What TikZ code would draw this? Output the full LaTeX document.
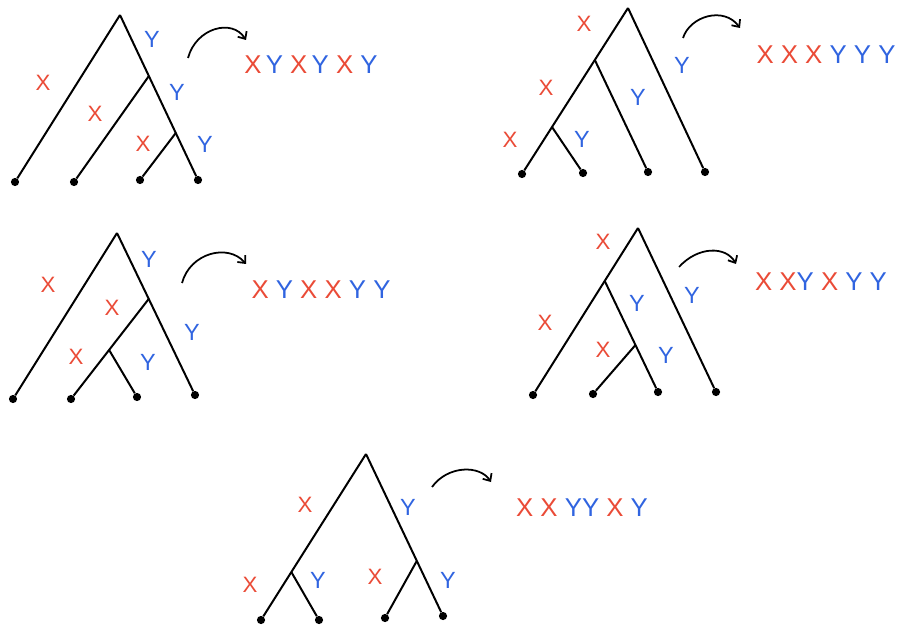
\documentclass[tikz,border=0pt]{standalone}
\usepackage{fontspec}
\setsansfont{Liberation Sans}
\usepackage{xcolor}
\definecolor{rouge}{RGB}{234, 75, 55}
\definecolor{bleu}{RGB}{48, 100, 224}
\usetikzlibrary{calc, arrows.meta}
\newcommand{\rx}{\textcolor{rouge}{X}}
\newcommand{\by}{\textcolor{bleu}{Y}}

\begin{document}
\begin{tikzpicture}[
  x=0.03cm, y=-0.03cm,
  branch/.style={line width=1.7pt, color=black},
  leaf/.style={circle, fill=black, inner sep=0pt, minimum size=7pt},
  labx/.style={text=rouge, inner sep=0pt, font=\sffamily\fontsize{19}{19}\selectfont},
  laby/.style={text=bleu, inner sep=0pt, font=\sffamily\fontsize{20}{20}\selectfont},
  seq/.style={inner sep=0pt, font=\sffamily\fontsize{22}{22}\selectfont},
  curl/.style={-{Straight Barb[length=5pt, width=9pt]}, line width=1.5pt}
]
\useasboundingbox (0,0) rectangle (897,626);
% Tree 1
\coordinate (r1) at (120,15);
\node[leaf] (l1a) at (15,182) {};
\node[leaf] (l1b) at (74,182) {};
\node[leaf] (l1c) at (140,180) {};
\node[leaf] (l1d) at (198,180) {};
\coordinate (n1a) at ($(r1)!0.37!(l1d)$);
\coordinate (n1b) at ($(r1)!0.715!(l1d)$);
\draw[branch] (r1) -- (l1a);
\draw[branch] (r1) -- (l1d);
\draw[branch] (n1a) -- (l1b);
\draw[branch] (n1b) -- (l1c);
\node[labx] (x1a) at (43,83) {X};
\node[laby] (y1a) at (152,39) {Y};
\node[labx] (x1b) at (95,114) {X};
\node[laby] (y1b) at (177,92) {Y};
\node[labx] (x1c) at (143,144) {X};
\node[laby] (y1c) at (205,144) {Y};
\coordinate (c1s) at (188,58);
\coordinate (c1e) at (246,40);
\draw[curl] (c1s) .. controls (196,28) and (232,18) .. (c1e);
\node[seq] (s1) at (311,65) {\rx\,\by\ \rx\,\by\ \rx\ \by};
% Tree 2
\coordinate (r2) at (628,8);
\node[leaf] (l2a) at (522,174) {};
\node[leaf] (l2b) at (583,173) {};
\node[leaf] (l2c) at (648,172) {};
\node[leaf] (l2d) at (705,172) {};
\coordinate (n2a) at ($(r2)!0.313!(l2a)$);
\coordinate (n2b) at ($(r2)!0.717!(l2a)$);
\draw[branch] (r2) -- (l2a);
\draw[branch] (r2) -- (l2d);
\draw[branch] (n2a) -- (l2c);
\draw[branch] (n2b) -- (l2b);
\node[labx] (x2a) at (584,24) {X};
\node[labx] (x2b) at (546,88) {X};
\node[labx] (x2c) at (510,140) {X};
\node[laby] (y2a) at (582,139) {Y};
\node[laby] (y2b) at (638,97) {Y};
\node[laby] (y2c) at (682,65) {Y};
\coordinate (c2s) at (683,38);
\coordinate (c2e) at (740,28);
\draw[curl] (c2s) .. controls (690,16) and (724,6) .. (c2e);
\node[seq] (s2) at (826,55) {\rx\ \rx\ \rx\ \by\ \by\ \by};
% Tree 3
\coordinate (r3) at (117,233);
\node[leaf] (l3a) at (13,399) {};
\node[leaf] (l3b) at (71,399) {};
\node[leaf] (l3c) at (137,397) {};
\node[leaf] (l3d) at (195,395) {};
\coordinate (n3a) at ($(r3)!0.407!(l3d)$);
\coordinate (n3b) at ($(n3a)!0.51!(l3b)$);
\draw[branch] (r3) -- (l3a);
\draw[branch] (r3) -- (l3d);
\draw[branch] (n3a) -- (l3b);
\draw[branch] (n3b) -- (l3c);
\node[labx] (x3a) at (48,285) {X};
\node[laby] (y3a) at (149,259) {Y};
\node[labx] (x3b) at (112,308) {X};
\node[laby] (y3b) at (192,332) {Y};
\node[labx] (x3c) at (76,357) {X};
\node[laby] (y3c) at (148,362) {Y};
\coordinate (c3s) at (182,283);
\coordinate (c3e) at (246,264);
\draw[curl] (c3s) .. controls (190,253) and (228,243) .. (c3e);
\node[seq] (s3) at (321,290) {\rx\ \by\ \rx\ \rx\ \by\ \by};
% Tree 4
\coordinate (r4) at (638,228);
\node[leaf] (l4a) at (533,395) {};
\node[leaf] (l4b) at (593,394) {};
\node[leaf] (l4c) at (658,392) {};
\node[leaf] (l4d) at (716,392) {};
\coordinate (n4a) at ($(r4)!0.317!(l4a)$);
\coordinate (n4b) at ($(n4a)!0.577!(l4c)$);
\draw[branch] (r4) -- (l4a);
\draw[branch] (r4) -- (l4d);
\draw[branch] (n4a) -- (l4c);
\draw[branch] (n4b) -- (l4b);
\node[labx] (x4a) at (603,242) {X};
\node[labx] (x4b) at (545,323) {X};
\node[laby] (y4a) at (637,303) {Y};
\node[laby] (y4b) at (692,295) {Y};
\node[labx] (x4c) at (603,350) {X};
\node[laby] (y4c) at (666,355) {Y};
\coordinate (c4s) at (679,267);
\coordinate (c4e) at (736,264);
\draw[curl] (c4s) .. controls (698,246) and (726,246) .. (c4e);
\node[seq] (s4) at (821,282) {\rx\ \rx\by\ \rx\ \by\ \by};
% Tree 5
\coordinate (r5) at (366,454);
\node[leaf] (l5a) at (261,620) {};
\node[leaf] (l5b) at (319,620) {};
\node[leaf] (l5c) at (385,618) {};
\node[leaf] (l5d) at (443,616) {};
\coordinate (n5a) at ($(r5)!0.711!(l5a)$);
\coordinate (n5b) at ($(r5)!0.66!(l5d)$);
\draw[branch] (r5) -- (l5a);
\draw[branch] (r5) -- (l5d);
\draw[branch] (n5a) -- (l5b);
\draw[branch] (n5b) -- (l5c);
\node[labx] (x5a) at (305,505) {X};
\node[laby] (y5a) at (408,507) {Y};
\node[labx] (x5b) at (250,585) {X};
\node[laby] (y5b) at (318,580) {Y};
\node[labx] (x5c) at (375,577) {X};
\node[laby] (y5c) at (448,580) {Y};
\coordinate (c5s) at (432,487);
\coordinate (c5e) at (491,482);
\draw[curl] (c5s) .. controls (448,465) and (480,465) .. (c5e);
\node[seq] (s5) at (582,508) {\rx\ \rx\ \by\by\ \rx\ \by};
\end{tikzpicture}
\end{document}
